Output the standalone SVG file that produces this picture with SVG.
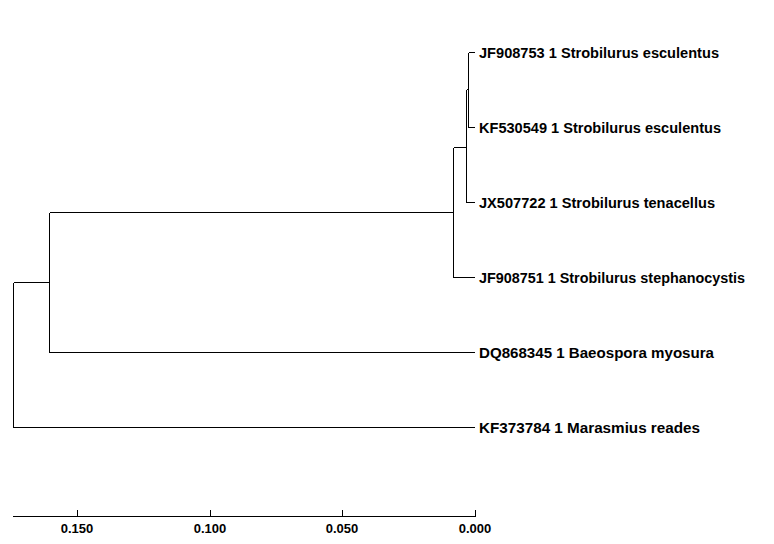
<svg xmlns="http://www.w3.org/2000/svg" width="774" height="544" viewBox="0 0 774 544">
<style>
.b{stroke:#000;stroke-width:1;fill:none;shape-rendering:crispEdges}
.t{font-family:"Liberation Sans",Arial,sans-serif;font-size:14.5px;font-weight:bold;fill:#000}
.s{font-family:"Liberation Sans",Arial,sans-serif;font-size:13px;font-weight:bold;fill:#000;text-anchor:middle}
</style>
<rect width="774" height="544" fill="#fff"/>
<g id="connectors">
<path class="b" d="M13.5,282.5V427.5H475M13.5,282.5H49.5"/>
<path class="b" d="M49.5,212.5V352.5H475M49.5,212.5H453.5"/>
<path class="b" d="M453.5,147.5V277.5H475M453.5,147.5H466.5"/>
<path class="b" d="M466.5,89.5V202.5H475M466.5,89.5H468.5"/>
<path class="b" d="M468.5,52.5V127.5H475M468.5,52.5H475"/>
</g>
<g id="leaf1"><text class="t" x="479" y="57.5" textLength="240" lengthAdjust="spacingAndGlyphs">JF908753 1 Strobilurus esculentus</text></g>
<g id="leaf2"><text class="t" x="479" y="132.5" textLength="242" lengthAdjust="spacingAndGlyphs">KF530549 1 Strobilurus esculentus</text></g>
<g id="leaf3"><text class="t" x="479" y="207.5" textLength="236" lengthAdjust="spacingAndGlyphs">JX507722 1 Strobilurus tenacellus</text></g>
<g id="leaf4"><text class="t" x="479" y="282.5" textLength="266" lengthAdjust="spacingAndGlyphs">JF908751 1 Strobilurus stephanocystis</text></g>
<g id="leaf5"><text class="t" x="479" y="357.5" textLength="235" lengthAdjust="spacingAndGlyphs">DQ868345 1 Baeospora myosura</text></g>
<g id="leaf6"><text class="t" x="479" y="432.5" textLength="221" lengthAdjust="spacingAndGlyphs">KF373784 1 Marasmius reades</text></g>
<g id="scale">
<path class="b" d="M13,516.5H476M77.5,510V517M210.5,510V517M342.5,510V517M475.5,510V517"/>
<text class="s" x="77" y="533">0.150</text>
<text class="s" x="210" y="533">0.100</text>
<text class="s" x="342" y="533">0.050</text>
<text class="s" x="475" y="533">0.000</text>
</g>
</svg>
